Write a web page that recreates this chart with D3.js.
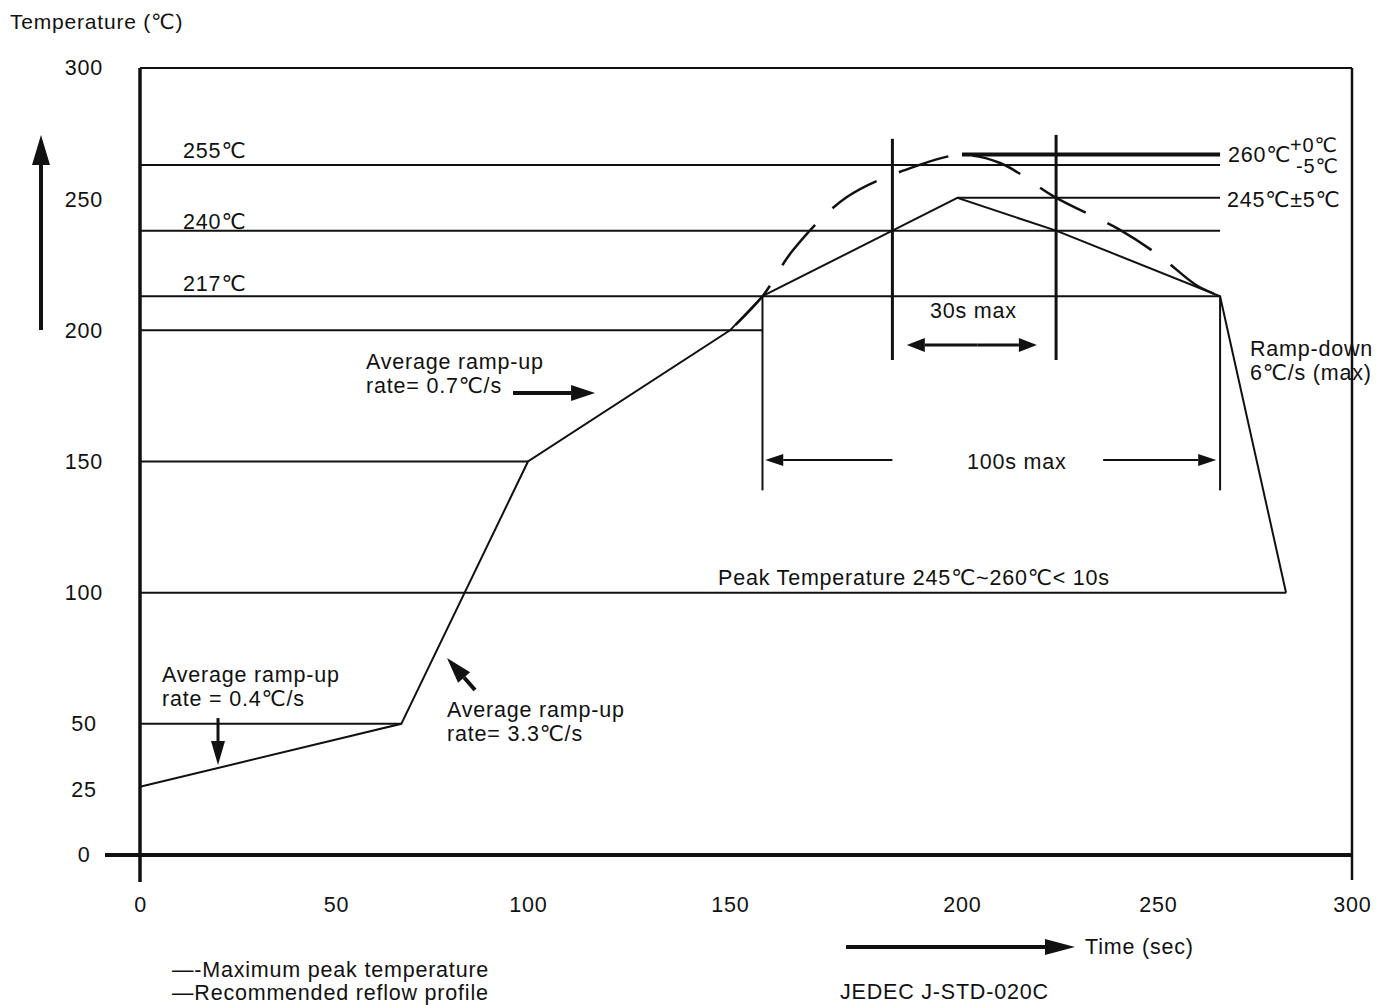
<!DOCTYPE html>
<html>
<head>
<meta charset="utf-8">
<script src="https://cdn.jsdelivr.net/npm/d3@7"></script>
<style>
    body { margin: 0; background: #fff; }
    text { font-family: "Liberation Sans", Arial, "DejaVu Sans", sans-serif; fill: #111; letter-spacing: 0.8px; }
</style>
</head>
<body>
<div id="chart"></div>
<script>
// axis ticks
const tempTicks = [0, 25, 50, 100, 150, 200, 250, 300];
const timeTicks = [0, 50, 100, 150, 200, 250, 300];

// recommended reflow profile (solid)
const profileTime = [0, 67, 100, 150, 157, 185, 199, 224, 266, 283];
const profileTemp = [26, 50, 150, 200, 213, 238, 250.5, 238, 213, 100];

// maximum peak temperature (dashed)
const peakTime = [150, 157, 163.6, 175.2, 190.1, 199.6, 209.7, 223.7, 240.3, 250.4, 259.8, 266];
const peakTemp = [200, 213, 230.6, 250.8, 262.6, 266.8, 263.8, 250.8, 238.3, 228.4, 217.3, 213];

// horizontal guide levels (as drawn on the axis)
const guideTemp = [267, 263, 250.5, 238, 213, 200, 150, 100, 50];
const guideFrom = [200, 0, 199, 0, 0, 0, 0, 0, 0];
const guideTo = [266, 266, 266, 266, 266, 157, 100, 283, 67];

// vertical markers (100s max, 30s max)
const markTime = [157, 266, 185, 224];
const markTop = [213, 213, 273, 274.5];
const markBottom = [139, 139, 188.7, 188.7];

const width = 1378, height = 1005;
const fs = 21.5;

const svg = d3.select("#chart").append("svg")
    .attr("width", width)
    .attr("height", height);

// x ticks are not evenly spaced in the source drawing
const x = d3.scaleLinear()
    .domain(timeTicks)
    .range([140, 336, 528, 730, 962, 1158, 1352]);
const y = d3.scaleLinear()
    .domain([0, 300])
    .range([855, 68]);

// axes (labels only)
svg.append("g")
    .attr("transform", "translate(140,0)")
    .call(d3.axisLeft(y).tickValues(tempTicks).tickSize(0))
    .call(g => g.select(".domain").remove())
    .call(g => g.selectAll("text")
        .attr("x", -56)
        .attr("text-anchor", "middle")
        .style("font-size", fs + "px"));

svg.append("g")
    .attr("transform", "translate(0,855)")
    .call(d3.axisBottom(x).tickValues(timeTicks).tickSize(0).tickPadding(42))
    .call(g => g.select(".domain").remove())
    .call(g => g.selectAll("text").style("font-size", fs + "px"));

// frame
const frame = svg.append("g").attr("stroke", "#111").attr("fill", "none");
frame.append("line").attr("x1", x(0)).attr("x2", x(300)).attr("y1", y(300)).attr("y2", y(300)).attr("stroke-width", 2);
frame.append("line").attr("x1", x(300)).attr("x2", x(300)).attr("y1", y(300)).attr("y2", 880).attr("stroke-width", 2.5);
frame.append("line").attr("x1", x(0)).attr("x2", x(0)).attr("y1", y(300)).attr("y2", 882).attr("stroke-width", 3.5);
frame.append("line").attr("x1", 105).attr("x2", x(300)).attr("y1", y(0)).attr("y2", y(0)).attr("stroke-width", 4);

// guide lines
svg.append("g")
    .selectAll("line")
    .data(d3.range(guideTemp.length))
    .join("line")
    .attr("x1", i => x(guideFrom[i]))
    .attr("x2", i => x(guideTo[i]))
    .attr("y1", i => y(guideTemp[i]))
    .attr("y2", i => y(guideTemp[i]))
    .attr("stroke", "#111")
    .attr("stroke-width", i => i === 0 ? 4 : 2);

// vertical markers
svg.append("g")
    .selectAll("line")
    .data(d3.range(markTime.length))
    .join("line")
    .attr("x1", i => x(markTime[i]))
    .attr("x2", i => x(markTime[i]))
    .attr("y1", i => y(markTop[i]))
    .attr("y2", i => y(markBottom[i]))
    .attr("stroke", "#111")
    .attr("stroke-width", i => i < 2 ? 2 : 3);

// profile lines
const line = d3.line().x(d => x(d[0])).y(d => y(d[1]));

svg.append("path")
    .datum(d3.zip(peakTime, peakTemp))
    .attr("d", line.curve(d3.curveCatmullRom))
    .attr("fill", "none")
    .attr("stroke", "#111")
    .attr("stroke-width", 2.5)
    .attr("stroke-dasharray", "52,24")
    .attr("stroke-dashoffset", -8);

svg.append("path")
    .datum(d3.zip(profileTime, profileTemp))
    .attr("d", line.curve(d3.curveLinear))
    .attr("fill", "none")
    .attr("stroke", "#111")
    .attr("stroke-width", 2);

// arrows
function arrow(x1, y1, x2, y2, w, hl, hw) {
    const a = Math.atan2(y2 - y1, x2 - x1);
    const bx = x2 - hl * Math.cos(a), by = y2 - hl * Math.sin(a);
    const nx = -Math.sin(a) * hw / 2, ny = Math.cos(a) * hw / 2;
    svg.append("line")
        .attr("x1", x1).attr("y1", y1).attr("x2", bx).attr("y2", by)
        .attr("stroke", "#111").attr("stroke-width", w);
    svg.append("path")
        .attr("d", `M${x2},${y2}L${bx + nx},${by + ny}L${bx - nx},${by - ny}Z`)
        .attr("fill", "#111");
}

arrow(x(96.1), y(176.1), x(116.6), y(176.1), 4, 24, 16);      // 0.7 C/s
arrow(x(19.9), y(52.2), x(19.9), y(34.3), 3, 24, 14);         // 0.4 C/s
arrow(x(86.2), y(62.9), x(78.9), y(75.1), 4, 26, 16);         // 3.3 C/s
arrow(x(185), y(150.6), x(157.6), y(150.6), 2, 18, 12);       // 100s left
arrow(x(236), y(150.6), x(265), y(150.6), 2, 18, 12);         // 100s right
arrow(x(204), y(194.4), x(188.1), y(194.4), 3, 18, 14);       // 30s left
arrow(x(204), y(194.4), x(219.1), y(194.4), 3, 18, 14);       // 30s right
arrow(41, 330, 41, 135, 4, 30, 18);                           // temperature axis
arrow(846, 947, 1075, 947, 4, 30, 16);                        // time axis

// texts
const label = (tx, ty, s, size) => svg.append("text")
    .attr("x", tx).attr("y", ty)
    .style("font-size", (size || fs) + "px")
    .text(s);

label(10, 29, "Temperature (℃)", 21);
label(x(11), 158, "255℃");
label(x(11), 229, "240℃");
label(x(11), 291, "217℃");
label(1228, 162, "260℃");
label(1290, 152, "+0℃", 20);
label(1296, 173, "-5℃", 20);
label(1227, 207, "245℃±5℃");
label(930, 318, "30s max");
label(967, 469, "100s max");
label(1250, 356, "Ramp-down");
label(1250, 380, "6℃/s (max)");
label(366, 369, "Average ramp-up");
label(366, 393, "rate= 0.7℃/s");
label(718, 585, "Peak Temperature 245℃~260℃< 10s");
label(162, 682, "Average ramp-up");
label(162, 706, "rate = 0.4℃/s");
label(447, 717, "Average ramp-up");
label(447, 741, "rate= 3.3℃/s");
label(1085, 954, "Time (sec)");
label(840, 999, "JEDEC J-STD-020C");
label(172, 977, "—-Maximum peak temperature");
label(172, 1000, "—Recommended reflow profile");
</script>
</body>
</html>
